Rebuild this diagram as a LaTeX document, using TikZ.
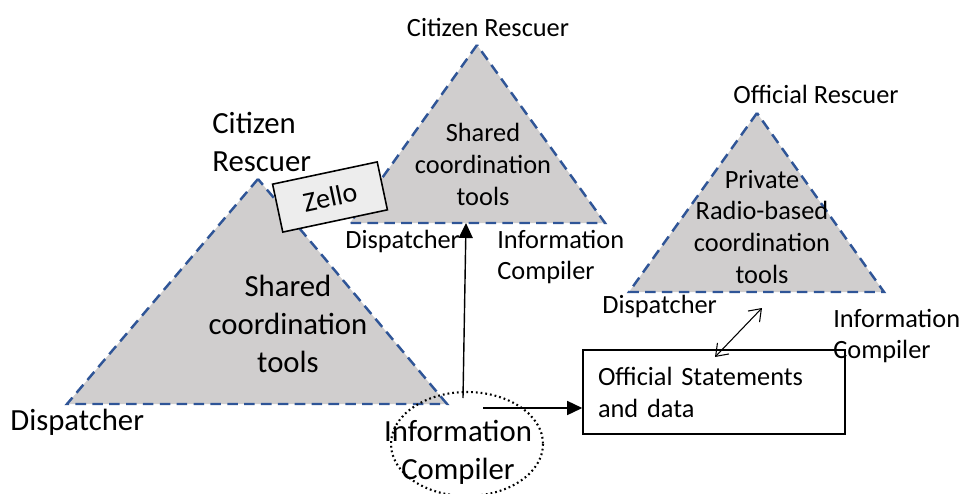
\documentclass[tikz,border=0pt]{standalone}
\usepackage{fontspec}
\setmainfont{Carlito}
\usetikzlibrary{arrows.meta}

\definecolor{trifill}{HTML}{D0CECE}
\definecolor{triedge}{HTML}{2F5597}
\definecolor{tagfill}{HTML}{EDEDED}

\begin{document}
\begin{tikzpicture}[x=0.02cm, y=-0.02cm,
	every node/.style={inner sep=0pt, font=\fontsize{15}{18.2}\selectfont},
	big/.style={font=\fontsize{17.5}{21.5}\selectfont},
	tri/.style={fill=trifill, draw=triedge, line width=1.4pt, dash pattern=on 6pt off 3.6pt},
	>={Triangle[length=3mm, width=2.8mm]}]
	\useasboundingbox (0,0) rectangle (961,494);

	% the three coordination triangles
	\coordinate (lt) at (258,179);  \coordinate (ll) at (67,404);  \coordinate (lr) at (447,404);
	\coordinate (mt) at (477,45);   \coordinate (ml) at (350,223); \coordinate (mr) at (605,223);
	\coordinate (rt) at (757,113);  \coordinate (rl) at (629,292); \coordinate (rr) at (884,292);
	\draw[tri] (lt) -- (ll) -- (lr) -- cycle;
	\draw[tri] (mt) -- (ml) -- (mr) -- cycle;
	\draw[tri] (rt) -- (rl) -- (rr) -- cycle;

	\node[big, align=center] (lcore) at (288,324) {Shared\\coordination\\tools};
	\node[align=center] (mcore) at (483,164) {Shared\\coordination\\tools};
	\node[align=center] (rcore) at (762,227) {Private\\Radio-based\\coordination\\tools};

	% corner roles
	\node[big, align=left, anchor=west] (lres) at (212,142) {Citizen\\Rescuer};
	\node[big, anchor=base west] (ldis) at (10,430) {Dispatcher};
	\node[anchor=base] (mres) at (488,36) {Citizen Rescuer};
	\node[anchor=base west] (mdis) at (345,248) {Dispatcher};
	\node[align=left, anchor=west] (mcomp) at (497,257) {Information\\Compiler};
	\node[anchor=base] (rres) at (816,103) {Official Rescuer};
	\node[anchor=base west] (rdis) at (602,313) {Dispatcher};
	\node[align=left, anchor=west] (rcomp) at (833,336) {Information\\Compiler};

	\node[draw, fill=tagfill, line width=0.9pt, rotate=12, minimum width=2.14cm, minimum height=0.98cm,
		font=\fontsize{16}{19}\selectfont] (zello) at (330,197) {Zello};

	\node[draw, line width=0.9pt, align=left, text width=4.64cm, inner xsep=0.3cm,
		minimum height=1.68cm] (stmt) at (714,392) {Official Statements\\and data};

	\node[big, align=center] (comp) at (458,452) {Information\\Compiler};
	\draw[line width=1.2pt, dash pattern=on 1pt off 1.7pt] (467,444) ellipse [x radius=76, y radius=52];

	% links
	\coordinate (upfoot) at (463,398);
	\coordinate (upend) at (466,223);
	\coordinate (rfoot) at (483,408);
	\coordinate (pa) at (715,357);
	\coordinate (pb) at (762,308);
	\draw[->, line width=0.8pt] (upfoot) -- (upend);
	\draw[->, line width=0.8pt] (rfoot) -- (rfoot -| stmt.west);
	\draw[{Straight Barb[length=2.2mm, width=3.2mm]}-{Straight Barb[length=2.2mm, width=3.2mm]}, line width=0.6pt] (pa) -- (pb);
\end{tikzpicture}
\end{document}
